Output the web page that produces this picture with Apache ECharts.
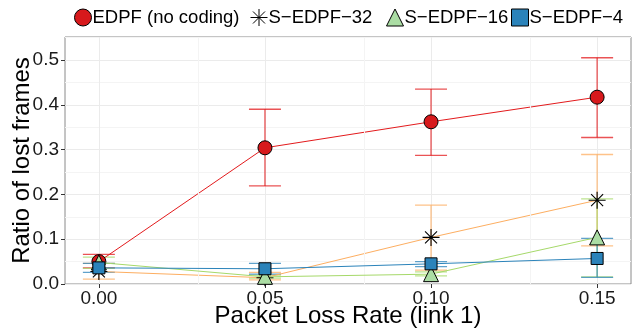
<!DOCTYPE html>
<html>
<head>
<meta charset="utf-8">
<script src="https://cdn.jsdelivr.net/npm/echarts@6/dist/echarts.min.js"></script>
<style>
html,body{margin:0;padding:0;background:#fff;}
#c{width:639px;height:328px;}
</style>
</head>
<body>
<div id="c"></div>
<script>
// ---- data ----
const xValues = [0, 0.05, 0.10, 0.15];
const xTicks = [0, 0.05, 0.10, 0.15];
const yTicks = [0, 0.1, 0.2, 0.3, 0.4, 0.5];
const seriesNames = ['EDPF (no coding)', 'S\u2212EDPF\u221232', 'S\u2212EDPF\u221216', 'S\u2212EDPF\u22124'];

const edpfMean = [0.050, 0.304, 0.362, 0.417];
const edpfLow  = [0.036, 0.219, 0.287, 0.327];
const edpfHigh = [0.066, 0.390, 0.435, 0.505];

const s32Mean = [0.028, 0.014, 0.104, 0.187];
const s32Low  = [0.011, 0.009, 0.031, 0.085];
const s32High = [0.046, 0.026, 0.176, 0.289];

const s16Mean = [0.048, 0.016, 0.022, 0.104];
const s16Low  = [0.035, 0.013, 0.018, 0.016];
const s16High = [0.060, 0.020, 0.027, 0.190];

const s4Mean = [0.036, 0.034, 0.045, 0.057];
const s4Low  = [0.026, 0.022, 0.039, 0.015];
const s4High = [0.046, 0.046, 0.050, 0.102];

// ---- styling ----
const FONT = 'Liberation Sans, Arial, sans-serif';
const lineColors = ['#e31a1c', '#fdae61', '#a6d96a', '#2b83ba'];
const fillColors = ['#d7191c', 'none', '#abdda4', '#2b83ba'];
const asteriskPath = 'path://M0,-10L0,10M-10,0L10,0M-7.07,-7.07L7.07,7.07M-7.07,7.07L7.07,-7.07';
const symbols = ['circle', asteriskPath, 'triangle', 'rect'];
const symbolSizes = [14, 17, 15, 12];

const means = [edpfMean, s32Mean, s16Mean, s4Mean];
const lows = [edpfLow, s32Low, s16Low, s4Low];
const highs = [edpfHigh, s32High, s16High, s4High];

const xMinor = [];
for (let i = 0; i < xTicks.length - 1; i++) xMinor.push((xTicks[i] + xTicks[i + 1]) / 2);

const chart = echarts.init(document.getElementById('c'), null, {renderer: 'canvas'});

const series = [];
// error bars
seriesNames.forEach((name, s) => {
  series.push({
    type: 'custom',
    name: name + ' err',
    z: 2,
    silent: true,
    data: xValues.map((x, i) => [x, lows[s][i], highs[s][i]]),
    encode: {x: 0, y: [1, 2]},
    renderItem: function (params, api) {
      const x = api.value(0);
      const lo = api.coord([x, api.value(1)]);
      const hi = api.coord([x, api.value(2)]);
      const half = 16;
      const st = {stroke: lineColors[s], lineWidth: 1.3, opacity: 0.75};
      return {
        type: 'group',
        children: [
          {type: 'line', shape: {x1: lo[0], y1: lo[1], x2: hi[0], y2: hi[1]}, style: st},
          {type: 'line', shape: {x1: lo[0] - half, y1: lo[1], x2: lo[0] + half, y2: lo[1]}, style: st},
          {type: 'line', shape: {x1: hi[0] - half, y1: hi[1], x2: hi[0] + half, y2: hi[1]}, style: st}
        ]
      };
    },
    markLine: s === 0 ? {
      silent: true, symbol: 'none', label: {show: false},
      lineStyle: {color: '#f4f4f4', width: 1, type: 'solid'},
      data: xMinor.map(v => ({xAxis: v}))
    } : undefined
  });
});
// lines + points
seriesNames.forEach((name, s) => {
  series.push({
    type: 'line',
    name: name,
    z: 3 + s,
    data: xValues.map((x, i) => [x, means[s][i]]),
    symbol: symbols[s],
    symbolSize: symbolSizes[s],
    symbolKeepAspect: true,
    showSymbol: true,
    animation: false,
    lineStyle: {color: lineColors[s], width: 1},
    itemStyle: {
      color: s === 1 ? 'rgba(0,0,0,0)' : fillColors[s],
      borderColor: '#000',
      borderWidth: s === 1 ? 1.1 : 1
    }
  });
});

const legendPos = [74, 250, 386, 511];
const legends = seriesNames.map((name, s) => ({
  left: legendPos[s],
  top: 8,
  padding: 0,
  itemWidth: 17,
  itemHeight: 17,
  itemGap: 0,
  textStyle: {fontFamily: FONT, fontSize: 18.5, color: '#000', padding: [0, 0, 0, -4]},
  data: [{
    name: name,
    icon: symbols[s],
    itemStyle: {
      color: s === 1 ? 'rgba(0,0,0,0)' : fillColors[s],
      borderColor: '#000',
      borderWidth: 1
    }
  }],
  selectedMode: false
}));

chart.setOption({
  animation: false,
  backgroundColor: '#fff',
  legend: legends,
  grid: {
    left: 65, right: 8, top: 37, bottom: 44,
    outerBoundsMode: 'none',
    containLabel: false,
    show: true, borderColor: '#8a8a8a', borderWidth: 1, backgroundColor: 'transparent'
  },
  xAxis: {
    type: 'value',
    min: -0.0102,
    max: 0.1602,
    splitNumber: 3,
    name: 'Packet Loss Rate (link 1)',
    nameLocation: 'middle',
    nameGap: 20,
    nameMoveOverlap: false,
    nameTextStyle: {fontFamily: FONT, fontSize: 24, color: '#000', verticalAlign: 'top'},
    axisLine: {show: false, onZero: false},
    axisTick: {show: true, length: 4, lineStyle: {color: '#333'}, customValues: xTicks},
    axisLabel: {
      fontFamily: FONT, fontSize: 19, color: '#1a1a1a', margin: 5,
      customValues: xTicks,
      formatter: v => v.toFixed(2)
    },
    splitLine: {show: true, lineStyle: {color: '#ebebeb', width: 1}},
    minorTick: {show: false},
    minorSplitLine: {show: false}
  },
  yAxis: {
    type: 'value',
    min: 0,
    max: 0.5513,
    interval: 0.1,
    name: 'Ratio of lost frames',
    nameLocation: 'middle',
    nameGap: 31,
    nameMoveOverlap: false,
    nameTextStyle: {fontFamily: FONT, fontSize: 24, color: '#000'},
    axisLine: {show: false, onZero: false},
    axisTick: {show: true, length: 4, lineStyle: {color: '#333'}, customValues: yTicks},
    axisLabel: {
      fontFamily: FONT, fontSize: 19, color: '#1a1a1a', margin: 6,
      customValues: yTicks,
      formatter: v => v.toFixed(1)
    },
    splitLine: {show: true, lineStyle: {color: '#ebebeb', width: 1}},
    minorTick: {show: false, splitNumber: 2},
    minorSplitLine: {show: true, lineStyle: {color: '#f4f4f4', width: 1}}
  },
  series: series
});
</script>
</body>
</html>
